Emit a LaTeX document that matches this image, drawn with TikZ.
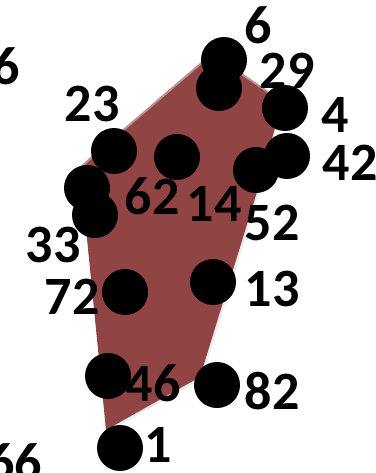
\documentclass[tikz,border=0pt]{standalone}
\usepackage{fontspec}
\setmainfont{Carlito}
\usetikzlibrary{shadows}

\definecolor{hullred}{RGB}{145,68,68}
\tikzset{
    pt/.style={circle, fill=black, minimum size=46pt, inner sep=0pt},
    num/.style={font=\bfseries\fontsize{54}{54}\selectfont, inner sep=0pt},
}

\begin{document}
\begin{tikzpicture}[x=1pt, y=-1pt]
    \useasboundingbox (0,0) rectangle (375,473);

    % hull
    \coordinate (h1) at (106,430);
    \coordinate (h2) at (80,168);
    \coordinate (h3) at (92,157);
    \coordinate (h4) at (212,54);
    \coordinate (h5) at (268,92);
    \coordinate (h6) at (275,128);
    \coordinate (h7) at (257,192);
    \coordinate (h8) at (200,377);
    \fill[hullred, drop shadow={opacity=0.15, shadow xshift=2pt, shadow yshift=-2pt}]
        (h1) -- (h2) -- (h3) -- (h4) -- (h5) -- (h6) -- (h7) -- (h8) -- cycle;
    \draw[hullred!60!white, line width=2pt, line join=round]
        (h2) -- (h3) -- (h4) -- (h5);

    % labels
    \node[num] (l6) at (258,25) {6};
    \node[num] (l29) at (287,71) {29};
    \node[num] (l4) at (335,115) {4};
    \node[num] (l42) at (350,163) {42};
    \node[num] (l23) at (92,104) {23};
    \node[num] (l62) at (152,196) {62};
    \node[num] (l14) at (214,204) {14};
    \node[num] (l52) at (272,223) {52};
    \node[num] (l33) at (53,245) {33};
    \node[num] (l72) at (72,297) {72};
    \node[num] (l13) at (272,289) {13};
    \node[num] (l46) at (153,383) {46};
    \node[num] (l82) at (272,391) {82};
    \node[num] (l1) at (158,445) {1};
    \node[num, anchor=east] (l26) at (20,66) {6};
    \node[num, anchor=north east] (l66) at (42,443) {66};

    % points
    \node[pt] (p6) at (224,60) {};
    \node[pt] (p29) at (219,88) {};
    \node[pt] (p4) at (285,108) {};
    \node[pt] (p42) at (287,156) {};
    \node[pt] (p52) at (256,170) {};
    \node[pt] (p23) at (114,151) {};
    \node[pt] (p14) at (177,157) {};
    \node[pt] (p62) at (87,188) {};
    \node[pt] (p33) at (95,215) {};
    \node[pt] (p72) at (125,292) {};
    \node[pt] (p13) at (213,282) {};
    \node[pt] (p46) at (108,376) {};
    \node[pt] (p82) at (217,385) {};
    \node[pt] (p1) at (120,448) {};
\end{tikzpicture}
\end{document}
